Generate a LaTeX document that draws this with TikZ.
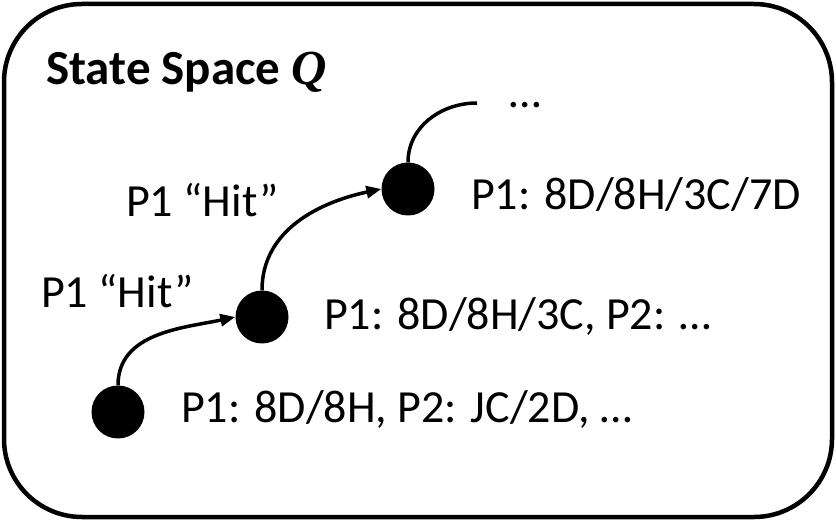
\documentclass[tikz,border=0pt]{standalone}
\usepackage{fontspec}
\setmainfont{Carlito}
\newfontfamily\qfont{Liberation Serif}
\usetikzlibrary{arrows.meta}
\begin{document}
\begin{tikzpicture}[x=1pt,y=-1pt,
  dot/.style={circle,fill=black,minimum size=53pt,inner sep=0pt},
  lbl/.style={anchor=base west,inner sep=0pt,font=\fontsize{46}{55}\selectfont},
  arr/.style={line width=3.5pt,-{Triangle[length=15pt,width=12pt]}},
  link/.style={line width=3.5pt}]
\useasboundingbox (0,0) rectangle (836,521);
\draw[line width=4.5pt,rounded corners=78pt] (4,4) rectangle (832,517);
\node[lbl,font=\fontsize{49}{58}\selectfont\bfseries] (title) at (46,85) {State Space {\qfont\itshape Q}};
\node[dot] (c1) at (118,412) {};
\node[dot] (c2) at (262,317) {};
\node[dot] (c3) at (408,189) {};
\coordinate (e) at (477,103);
\draw[arr] (c1.north) to[out=90,in=192] (c2.west);
\draw[arr] (c2.north) to[out=90,in=192] (c3.west);
\draw[link] (c3.north) to[out=90,in=180] (e);
\node[anchor=base,inner sep=0pt,font=\fontsize{46}{55}\selectfont] (dots) at (525,108) {…};
\node[lbl] (s3) at (471,210) {P1: 8D/8H/3C/7D};
\node[lbl] (s2) at (324,330) {P1: 8D/8H/3C, P2: …};
\node[lbl] (s1) at (181,423) {P1: 8D/8H, P2: JC/2D, …};
\node[lbl] (h2) at (126,217) {P1 “Hit”};
\node[lbl] (h1) at (41,308) {P1 “Hit”};
\end{tikzpicture}
\end{document}
